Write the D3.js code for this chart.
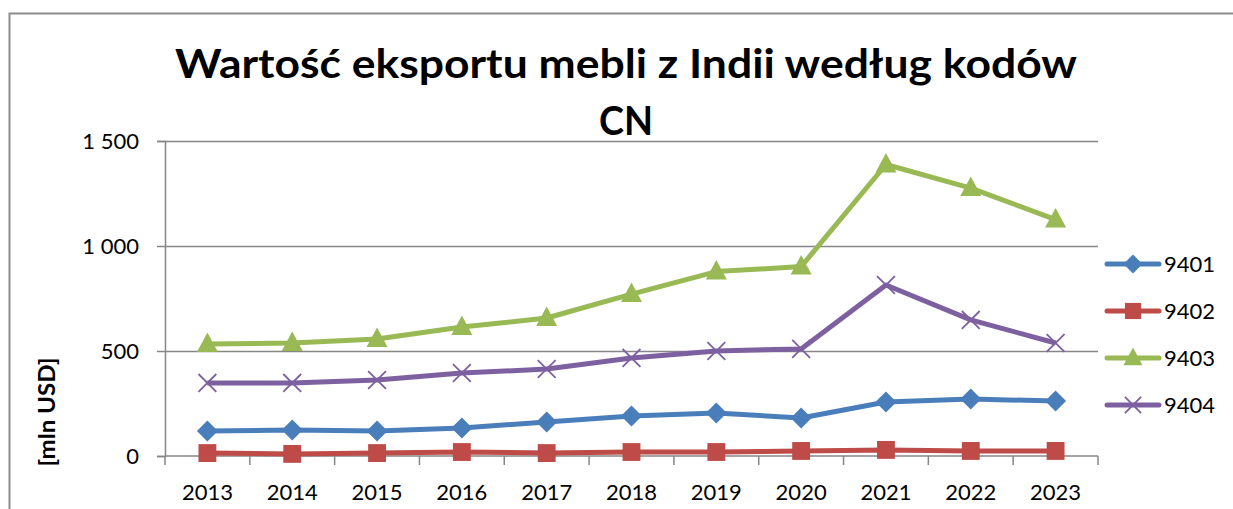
<!DOCTYPE html>
<html>
<head>
<meta charset="utf-8">
<script src="https://cdn.jsdelivr.net/npm/d3@7"></script>
<style>
  body { margin: 0; background: #fff; }
  text { font-family: Lato, "Open Sans", sans-serif; }
</style>
</head>
<body>
<div id="chart"></div>
<script>
// dane: wartość eksportu [mln USD]
const years = ["2013", "2014", "2015", "2016", "2017", "2018", "2019", "2020", "2021", "2022", "2023"];
const s9401 = [119, 124, 119, 133, 162, 190, 205, 181, 257, 271, 262];
const s9402 = [14, 10, 14, 19, 14, 19, 19, 24, 29, 24, 24];
const s9403 = [533, 538, 557, 614, 657, 771, 878, 902, 1388, 1276, 1126];
const s9404 = [348, 348, 362, 395, 414, 467, 500, 510, 814, 648, 538];
const yTicks = [0, 500, 1000, 1500];

const series = [
  {name: "9401", values: s9401, color: "#4a7ebb", marker: "diamond"},
  {name: "9402", values: s9402, color: "#be4b48", marker: "square"},
  {name: "9403", values: s9403, color: "#98b954", marker: "triangle"},
  {name: "9404", values: s9404, color: "#7d60a0", marker: "x"}
];

const W = 1233, H = 509;
const margin = {top: 141, right: 135, bottom: 53, left: 165};
const width = W - margin.left - margin.right,
      height = H - margin.top - margin.bottom;

const svg = d3.select("#chart").append("svg")
    .attr("width", W)
    .attr("height", H);

// ramka wykresu
svg.append("path")
    .attr("d", `M9.5,${H} V13.5 H${W}`)
    .attr("fill", "none")
    .attr("stroke", "#8c8c8c")
    .attr("stroke-width", 2);

// tytuł
const title = svg.append("text")
    .attr("text-anchor", "middle")
    .attr("font-weight", "bold")
    .attr("font-size", 41)
    .attr("fill", "#000");
title.append("tspan").attr("x", 626).attr("y", 78)
    .attr("textLength", 902).attr("lengthAdjust", "spacingAndGlyphs")
    .text("Wartość eksportu mebli z Indii według kodów");
title.append("tspan").attr("x", 626).attr("y", 135)
    .attr("textLength", 54).attr("lengthAdjust", "spacingAndGlyphs")
    .text("CN");

const g = svg.append("g")
    .attr("transform", `translate(${margin.left},${margin.top})`);

const x = d3.scaleBand()
    .domain(years)
    .range([0, width]);

const y = d3.scaleLinear()
    .domain([0, 1500])
    .range([height, 0]);

// siatka
g.append("g")
    .selectAll("line")
    .data(yTicks.filter(d => d > 0))
    .join("line")
    .attr("x1", 0)
    .attr("x2", width)
    .attr("y1", d => Math.round(y(d)) + 0.5)
    .attr("y2", d => Math.round(y(d)) + 0.5)
    .attr("stroke", "#868686")
    .attr("stroke-width", 1.5);

const fmt = d => d3.format(",")(d).replace(/,/g, " ");

// oś Y
const yAxis = g.append("g")
    .call(d3.axisLeft(y).tickValues(yTicks).tickSize(8).tickPadding(18).tickFormat(fmt));
yAxis.selectAll("text").attr("font-size", 22).attr("fill", "#000").attr("font-family", "Lato, sans-serif");
yAxis.selectAll("line, path").attr("stroke", "#868686").attr("stroke-width", 1.5);

// oś X
const boundaries = d3.range(years.length + 1).map(i => i * x.step());
const xAxis = g.append("g")
    .attr("transform", `translate(0,${height})`);
xAxis.append("line")
    .attr("x1", 0).attr("x2", width)
    .attr("stroke", "#868686").attr("stroke-width", 1.5);
xAxis.selectAll(".tick")
    .data(boundaries)
    .join("line")
    .attr("x1", d => d).attr("x2", d => d)
    .attr("y1", 0).attr("y2", 9)
    .attr("stroke", "#868686").attr("stroke-width", 1.5);
xAxis.selectAll(".lbl")
    .data(years)
    .join("text")
    .attr("x", d => x(d) + x.bandwidth() / 2)
    .attr("y", 44)
    .attr("text-anchor", "middle")
    .attr("font-size", 22)
    .attr("fill", "#000")
    .text(d => d);

// tytuł osi Y
svg.append("text")
    .attr("transform", "translate(55,412) rotate(-90)")
    .attr("text-anchor", "middle")
    .attr("font-weight", "bold")
    .attr("font-size", 23)
    .attr("textLength", 109).attr("lengthAdjust", "spacingAndGlyphs")
    .text("[mln USD]");

function drawMarker(sel, type, color, s) {
  if (type === "diamond") {
    sel.append("path").attr("d", `M0,${-s}L${s},0L0,${s}L${-s},0Z`).attr("fill", color);
  } else if (type === "square") {
    sel.append("rect").attr("x", -s * 0.85).attr("y", -s * 0.85)
       .attr("width", s * 1.7).attr("height", s * 1.7).attr("fill", color);
  } else if (type === "triangle") {
    sel.append("path").attr("d", `M0,${-s * 1.1}L${s},${s * 0.75}L${-s},${s * 0.75}Z`).attr("fill", color);
  } else {
    sel.append("path").attr("d", `M${-s * 0.85},${-s * 0.85}L${s * 0.85},${s * 0.85}M${s * 0.85},${-s * 0.85}L${-s * 0.85},${s * 0.85}`)
       .attr("stroke", color).attr("stroke-width", 1.8).attr("fill", "none");
  }
}

const line = d3.line()
    .x((d, i) => x(years[i]) + x.bandwidth() / 2)
    .y(d => y(d));

series.forEach(s => {
  g.append("path")
      .datum(s.values)
      .attr("fill", "none")
      .attr("stroke", s.color)
      .attr("stroke-width", 5)
      .attr("stroke-linejoin", "round")
      .attr("d", line);

  g.append("g")
      .selectAll("g")
      .data(s.values)
      .join("g")
      .attr("transform", (d, i) => `translate(${x(years[i]) + x.bandwidth() / 2},${y(d)})`)
      .each(function() { drawMarker(d3.select(this), s.marker, s.color, 10.5); });
});

// legenda
const legend = svg.append("g")
    .attr("transform", "translate(1105,264)");
series.forEach((s, i) => {
  const row = legend.append("g").attr("transform", `translate(0,${i * 47})`);
  row.append("line")
      .attr("x1", 2).attr("x2", 54)
      .attr("stroke", s.color).attr("stroke-width", 5).attr("stroke-linecap", "round");
  const m = row.append("g").attr("transform", "translate(28,0)");
  drawMarker(m, s.marker, s.color, 9.5);
  row.append("text")
      .attr("x", 59)
      .attr("y", 8)
      .attr("font-size", 22)
      .attr("fill", "#000")
      .text(s.name);
});
</script>
</body>
</html>
